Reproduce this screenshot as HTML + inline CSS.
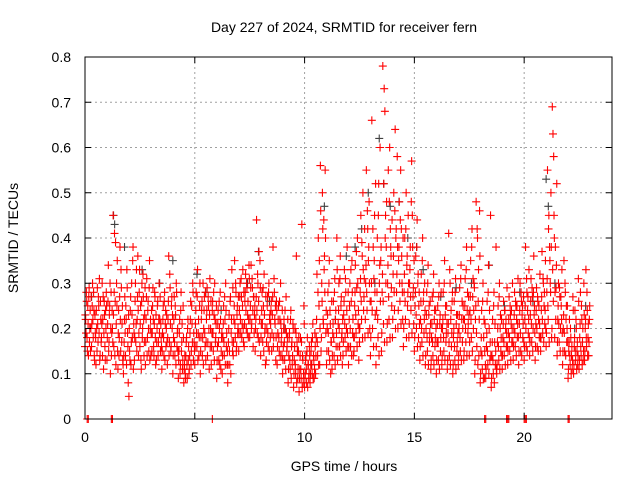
<!DOCTYPE html>
<html><head><meta charset="utf-8">
<style>
html,body{margin:0;padding:0;background:#fff;}
svg{display:block;font-family:"Liberation Sans",sans-serif;}
</style></head>
<body>
<svg id="chart" width="640" height="480" viewBox="0 0 640 480" xmlns="http://www.w3.org/2000/svg">
<rect x="0" y="0" width="640" height="480" fill="#fff"/>
<text x="344" y="32" font-size="14" text-anchor="middle" fill="#000">Day 227 of 2024, SRMTID for receiver fern</text>
<text x="0" y="0" font-size="14" text-anchor="middle" fill="#000" transform="translate(18,238) rotate(-90)">SRMTID / TECUs</text>
<text x="344" y="471" font-size="14" text-anchor="middle" fill="#000">GPS time / hours</text>
<g id="grid"></g>
<g id="gray"></g>
<g id="red"></g>
<rect x="85" y="57" width="527" height="362" fill="none" stroke="#000" stroke-width="1"/>
<g id="ticks"></g>
</svg>
<script>
const xTicks = [0,5,10,15,20];
const yTicks = [0,0.1,0.2,0.3,0.4,0.5,0.6,0.7,0.8];
const yTickLabels = ["0","0.1","0.2","0.3","0.4","0.5","0.6","0.7","0.8"];
const binStarts = [0.00,0.25,0.50,0.75,1.00,1.25,1.50,1.75,2.00,2.25,2.50,2.75,3.00,3.25,3.50,3.75,4.00,4.25,4.50,4.75,5.00,5.25,5.50,5.75,6.00,6.25,6.50,6.75,7.00,7.25,7.50,7.75,8.00,8.25,8.50,8.75,9.00,9.25,9.50,9.75,10.00,10.25,10.50,10.75,11.00,11.25,11.50,11.75,12.00,12.25,12.50,12.75,13.00,13.25,13.50,13.75,14.00,14.25,14.50,14.75,15.00,15.25,15.50,15.75,16.00,16.25,16.50,16.75,17.00,17.25,17.50,17.75,18.00,18.25,18.50,18.75,19.00,19.25,19.50,19.75,20.00,20.25,20.50,20.75,21.00,21.25,21.50,21.75,22.00,22.25,22.50,22.75];
const binValues = [
[16,22,28,18,25,14,29,20],[15,27,21,30,18,24,13,19],[12,20,29,17,25,31,14,22],[18,30,22,11,26,16,24,28],
[13,21,34,17,25,10,28,19],[20,45,16,41,26,12,30,35],[11,24,18,38,15,29,21,13],[10,17,27,14,22,33,19,8],
[5,15,24,12,30,18,38,21],[13,26,17,33,22,36,14,28],[16,25,11,30,20,27,14,23],[12,22,31,18,26,15,35,20],
[14,24,19,29,16,21,27,12],[13,20,26,17,30,22,15,18],[11,19,25,14,28,21,16,23],[12,22,36,17,29,15,25,20],
[10,18,27,14,23,30,16,20],[9,15,22,12,28,17,11,25],[8,12,10,14,18,9,22,16],[11,19,26,15,21,30,13,17],
[12,21,28,16,33,19,14,25],[10,18,24,14,30,20,27,16],[13,22,29,17,25,11,31,20],[12,19,26,15,23,30,17,21],
[9,16,24,13,20,28,11,18],[10,18,25,14,22,30,16,12],[8,17,23,12,27,19,33,15],[14,22,35,18,28,16,25,20],
[15,24,30,19,27,21,33,17],[16,26,32,20,29,23,18,34],[18,25,34,21,29,16,27,23],[15,22,44,19,30,26,17,35],
[14,21,28,17,25,32,19,12],[13,20,27,16,30,22,18,24],[15,23,38,18,28,21,13,26],[12,19,25,15,22,30,17,14],
[10,16,22,13,20,27,15,18],[8,14,19,11,24,16,12,21],[7,13,20,10,36,17,9,15],[6,11,18,9,43,14,8,25],
[7,10,14,8,18,12,9,16],[8,12,17,10,21,14,9,19],[10,18,32,14,40,25,12,56],[15,30,50,22,44,36,55,19],
[12,20,28,15,35,24,10,17],[11,19,26,14,31,22,16,40],[13,21,30,16,36,25,18,12],[14,23,33,18,28,20,38,16],
[12,22,30,16,26,35,19,14],[15,25,34,19,29,40,21,13],[17,28,45,22,36,50,24,31],[18,30,55,24,42,35,48,20],
[14,26,66,20,38,31,45,23],[12,24,40,18,52,30,60,35],[15,28,78,21,73,68,45,38],[17,30,55,22,60,42,36,25],
[18,32,50,24,64,40,28,58],[20,35,48,26,55,42,30,22],[16,28,40,22,50,34,25,45],[18,30,38,24,57,45,27,21],
[15,25,36,20,44,30,18,28],[13,22,32,17,40,26,19,30],[12,20,28,15,34,23,17,26],[11,18,27,14,32,22,16,24],
[10,17,25,13,30,21,15,28],[12,20,28,15,35,23,17,25],[11,19,41,14,30,22,16,26],[10,18,26,13,31,21,15,23],
[12,20,29,15,34,22,17,25],[13,22,31,17,38,24,19,27],[14,24,35,18,42,27,20,30],[10,22,48,16,40,26,14,46],
[8,15,24,11,30,18,9,21],[9,16,26,12,34,20,13,45],[7,14,22,10,28,17,12,38],[10,17,25,13,30,20,15,22],
[11,18,26,14,24,20,16,29],[12,19,27,15,23,21,17,30],[13,20,28,16,25,22,18,31],[12,21,30,15,26,23,18,27],
[13,22,38,16,28,24,19,33],[14,23,31,17,27,20,36,25],[13,21,29,16,26,22,18,32],[15,24,37,19,30,25,21,35],
[16,28,55,22,45,38,30,50],[18,69,63,58,40,28,22,34],[14,22,30,17,27,20,25,33],[12,20,35,15,28,22,17,25],
[9,15,22,12,18,14,11,27],[10,16,24,13,20,15,12,31],[11,18,28,14,22,17,13,30],[13,20,33,16,24,18,14,22]
];
const binValues2 = [
[23,19,26,15,21,27,17,24],[20,16,25,22,28,14,23,18],[24,15,21,27,19,13,26,17],[21,14,27,19,23,13,20,25],
[18,26,15,23,30,20,14,24],[17,23,28,14,39,21,25,15],[19,14,27,22,33,17,25,12],[14,22,19,25,12,29,16,23],
[20,13,27,17,23,35,11,19],[18,30,21,15,27,24,19,33],[21,13,26,18,32,22,17,29],[17,27,14,24,20,29,13,22],
[19,15,25,22,14,28,18,23],[17,25,14,22,19,27,21,16],[15,22,18,26,13,24,20,17],[18,26,14,32,21,16,27,23],
[14,22,17,25,12,28,19,15],[13,19,10,24,15,21,13,18],[11,14,9,17,12,20,13,10],[14,22,12,25,17,28,19,15],
[16,24,19,27,13,22,18,30],[15,22,26,18,12,24,19,28],[17,24,14,27,20,23,16,26],[16,24,19,28,13,22,18,25],
[13,21,17,26,12,22,15,19],[14,21,17,27,12,24,19,15],[12,20,15,26,10,22,17,29],[17,25,21,30,15,23,19,27],
[19,27,22,31,18,25,20,28],[21,28,24,30,19,26,22,31],[22,29,20,31,24,27,19,25],[20,27,24,32,18,37,22,29],
[18,24,21,29,15,23,20,27],[17,25,19,28,15,23,21,26],[19,27,16,31,22,25,18,24],[16,22,18,26,14,21,19,24],
[13,20,17,24,11,19,16,22],[11,18,13,22,9,17,14,20],[10,16,12,19,8,15,11,18],[9,14,11,17,7,13,10,21],
[9,13,11,15,7,12,10,14],[10,15,12,18,9,13,11,16],[14,22,17,28,12,35,20,46],[18,26,42,21,33,28,40,24],
[15,23,19,30,13,21,17,26],[14,21,18,28,12,24,19,33],[16,24,20,31,14,27,19,22],[17,26,21,31,15,24,19,28],
[16,25,20,33,14,28,22,18],[18,28,23,37,16,30,24,20],[20,31,26,39,18,33,27,42],[22,34,28,46,19,38,30,26],
[18,30,24,42,16,35,28,52],[16,28,22,45,14,34,26,38],[19,32,26,52,17,40,30,48],[21,34,27,48,18,38,29,44],
[22,36,28,46,20,42,32,38],[24,38,30,44,21,36,28,40],[20,32,26,42,18,36,28,30],[21,33,27,48,19,38,29,35],
[18,28,23,38,16,32,25,21],[16,26,20,35,14,28,22,24],[14,23,18,30,12,25,19,21],[13,21,17,28,12,24,18,20],
[13,21,17,27,11,23,18,20],[14,22,18,30,13,25,19,21],[13,21,17,33,12,24,19,28],[12,20,16,28,11,23,17,19],
[14,23,18,31,13,26,20,22],[15,25,20,33,14,28,21,23],[17,27,22,38,15,31,24,29],[13,25,19,42,12,33,22,36],
[10,18,14,26,9,22,15,12],[11,19,15,28,10,24,17,14],[9,17,13,25,8,21,15,11],[12,20,16,27,11,23,18,14],
[14,21,17,24,12,22,19,16],[15,22,18,25,13,24,20,17],[16,23,19,26,14,25,21,18],[15,24,19,28,14,25,21,17],
[16,25,20,31,15,27,22,18],[17,26,21,29,15,28,23,19],[16,24,20,27,15,25,21,18],[18,27,22,31,17,28,24,20],
[19,31,25,42,17,35,28,38],[20,33,26,45,18,38,29,52],[17,25,21,29,15,27,22,19],[15,23,19,30,14,25,20,17],
[11,17,14,20,10,16,13,24],[12,18,15,22,11,17,14,26],[13,21,16,25,12,20,15,23],[15,22,18,28,14,21,17,25]
];
const zeroTimes = [0.1,0.15,1.2,1.25,5.8,18.2,18.25,19.2,19.25,19.3,20.0,20.05,20.1,22.0,22.05];
const grayTimes = [0.3,1.3,1.35,1.8,2.6,3.4,4.0,5.1,5.5,6.2,7.4,7.9,8.4,9.1,9.7,10.3,10.9,11.4,11.9,12.3,12.6,12.9,13.2,13.4,13.6,13.9,14.3,14.7,15.1,15.4,16.2,16.9,17.6,18.4,19.1,19.8,20.4,21.0,21.1,21.4,22.3,22.8];
const grayValues = [0.27,0.45,0.43,0.38,0.33,0.3,0.35,0.32,0.28,0.24,0.3,0.37,0.26,0.2,0.15,0.12,0.47,0.22,0.36,0.38,0.42,0.5,0.3,0.62,0.52,0.47,0.48,0.4,0.38,0.33,0.27,0.29,0.3,0.34,0.25,0.28,0.26,0.53,0.47,0.3,0.2,0.25];

const X0=85, X1=612, Y0=419, Y1=57, XMAX=24, YMAX=0.8;
const xs = t => X0 + t/XMAX*(X1-X0);
const ys = v => Y0 - v/YMAX*(Y0-Y1);
const NS="http://www.w3.org/2000/svg";
function mk(tag, attrs, parent){const e=document.createElementNS(NS,tag);for(const k in attrs)e.setAttribute(k,attrs[k]);parent.appendChild(e);return e;}
const grid=document.getElementById('grid'), ticks=document.getElementById('ticks');
xTicks.forEach(t=>{
  const x=xs(t);
  if(t>0){const g=mk('line',{x1:x,y1:Y1,x2:x,y2:Y0,stroke:'#a0a0a0','stroke-dasharray':'2,3'},grid);
  
  }
  mk('line',{x1:x,y1:Y0,x2:x,y2:Y0-6,stroke:'#000'},ticks);
  mk('line',{x1:x,y1:Y1,x2:x,y2:Y1+6,stroke:'#000'},ticks);
  const l=mk('text',{x:x,y:Y0+23,'font-size':14,'text-anchor':'middle',fill:'#000'},ticks);
  l.textContent=String(t);
  
  
});
yTicks.forEach((v,i)=>{
  const y=ys(v);
  if(v>0&&v<YMAX){const g=mk('line',{x1:X0,y1:y,x2:X1,y2:y,stroke:'#a0a0a0','stroke-dasharray':'2,3'},grid);
  
  }
  mk('line',{x1:X0,y1:y,x2:X0+6,y2:y,stroke:'#000'},ticks);
  mk('line',{x1:X1,y1:y,x2:X1-6,y2:y,stroke:'#000'},ticks);
  const l=mk('text',{x:X0-14,y:y+5,'font-size':14,'text-anchor':'end',fill:'#000'},ticks);
  l.textContent=yTickLabels[i];
  
  
});
function plus(t,v,color,parent,name){
  const x=xs(t), y=ys(v);
  const p=mk('path',{d:`M${x-4},${y}h8M${x},${y-4}v8`,stroke:color,'stroke-width':1.1,fill:'none'},parent);
  
  
}
const gray=document.getElementById('gray'), red=document.getElementById('red');
grayTimes.forEach((t,i)=>plus(t,grayValues[i],'#404040',gray,'gray-point'));
binStarts.forEach((b,i)=>{
  const vals=binValues[i], n=vals.length;
  vals.forEach((v,j)=>plus(b+j*0.25/n,v/100,'#ff0000',red,'red-point'));
  const vals2=binValues2[i], n2=vals2.length;
  vals2.forEach((v,j)=>plus(b+(j+0.5)*0.25/n2,v/100,'#ff0000',red,'red-point'));
});
zeroTimes.forEach(t=>plus(t,0,'#ff0000',red,'zero-point'));
</script>
</body></html>
